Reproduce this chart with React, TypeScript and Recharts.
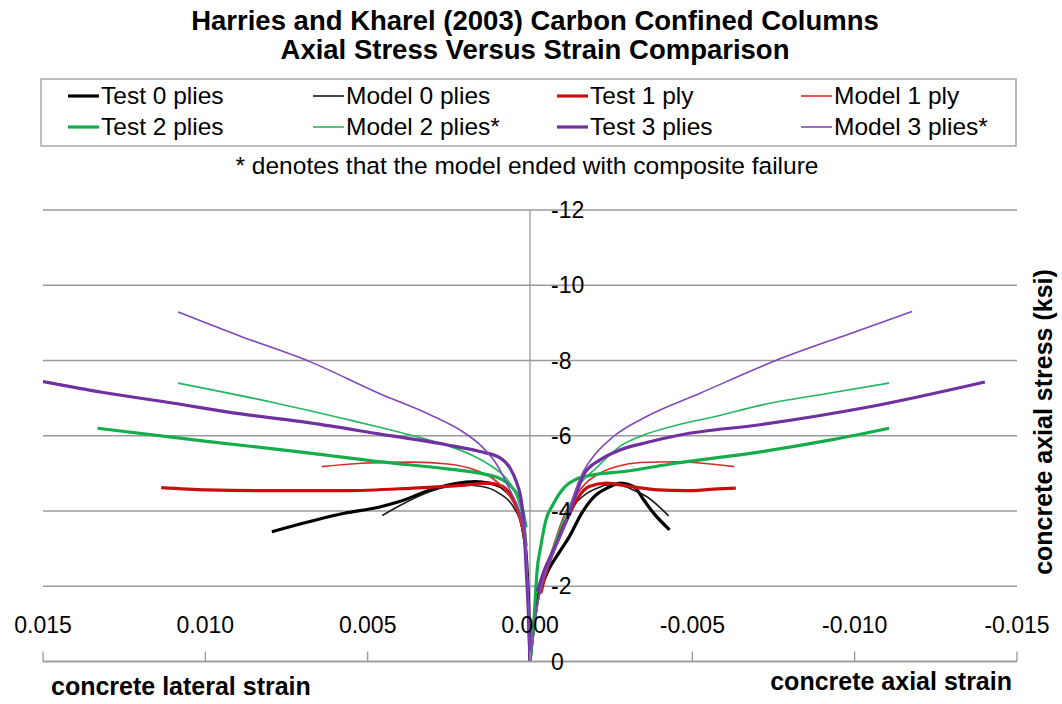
import React from 'react';
import { LineChart, Line, XAxis, YAxis, CartesianGrid, ReferenceLine } from 'recharts';

const W = 1062;
const H = 704;
const PLOT = { left: 43, right: 1017, top: 210, bottom: 661.5 };
const ZERO_X = (PLOT.left + PLOT.right) / 2;
const FONT = '"Liberation Sans", Arial, sans-serif';
const GRID = '#9a9a9a';

const xTicks = [0.015, 0.01, 0.005, 0, -0.005, -0.01, -0.015];
const yTicks = [-12, -10, -8, -6, -4, -2, 0];

// [strain, stress (ksi)] -- lateral branch runs out to the left, axial branch to the right
type Pt = [number, number];

const test0Lateral: Pt[] = [
  [0.00795, -3.45], [0.00678, -3.72], [0.00572, -3.94], [0.00466, -4.1], [0.00402, -4.25],
  [0.00307, -4.56], [0.00233, -4.72], [0.00169, -4.78], [0.00126, -4.74], [0.00084, -4.61],
  [0.00052, -4.3], [0.00031, -3.85], [0.0002, -3.41], [0.0001, -2.6], [0.00004, -1.4], [0, 0],
];
const test0Axial: Pt[] = [
  [0, 0], [-0.0002, -1.5], [-0.0005, -2.3], [-0.0009, -2.9], [-0.0012, -3.3], [-0.0016, -3.95],
  [-0.002, -4.4], [-0.0024, -4.62], [-0.0028, -4.74], [-0.0032, -4.65], [-0.0035, -4.3],
  [-0.0038, -3.95], [-0.0043, -3.5],
];

const model0Lateral: Pt[] = [
  [0.00455, -3.88], [0.00402, -4.14], [0.00307, -4.52], [0.00211, -4.69], [0.00148, -4.65],
  [0.00095, -4.47], [0.00052, -4.12], [0.00026, -3.59], [0.00012, -2.8], [0.00005, -1.6], [0, 0],
];
const model0Axial: Pt[] = [
  [0, 0], [-0.0003, -1.9], [-0.00065, -2.85], [-0.001, -3.6], [-0.0014, -4.2], [-0.00175, -4.47],
  [-0.0021, -4.62], [-0.00236, -4.69], [-0.0028, -4.68], [-0.0032, -4.55], [-0.0036, -4.38],
  [-0.00427, -3.87],
];

const test1Lateral: Pt[] = [
  [0.01136, -4.62], [0.00996, -4.56], [0.00784, -4.54], [0.00572, -4.54], [0.0036, -4.61],
  [0.002, -4.69], [0.00126, -4.74], [0.00084, -4.65], [0.00052, -4.3], [0.00031, -3.85],
  [0.00015, -3.32], [0.00012, -3.05],
];
const test1Axial: Pt[] = [
  [-0.00033, -1.81], [-0.00055, -2.52], [-0.00086, -3.23], [-0.00118, -3.85], [-0.0015, -4.38],
  [-0.00182, -4.65], [-0.00235, -4.74], [-0.0031, -4.65], [-0.00395, -4.56], [-0.0048, -4.54],
  [-0.00566, -4.58], [-0.00634, -4.61],
];

const model1Lateral: Pt[] = [
  [0.00641, -5.18], [0.00519, -5.27], [0.0036, -5.3], [0.00253, -5.25], [0.00169, -5.09],
  [0.00116, -4.87], [0.00073, -4.52], [0.00042, -4.07], [0.00026, -3.59], [0.00012, -2.7],
  [0.00005, -1.6], [0, 0],
];
const model1Axial: Pt[] = [
  [0, 0], [-0.00033, -1.99], [-0.00065, -2.88], [-0.00108, -3.94], [-0.00139, -4.38],
  [-0.00172, -4.74], [-0.00214, -5.0], [-0.00267, -5.18], [-0.00342, -5.29], [-0.00448, -5.31],
  [-0.00629, -5.18],
];

const test2Lateral: Pt[] = [
  [0.01332, -6.2], [0.00996, -5.85], [0.00678, -5.54], [0.00466, -5.31], [0.00255, -5.12],
  [0.0014, -4.98], [0.00085, -4.83], [0.00047, -4.54], [0.00026, -4.17], [0.00012, -3.56],
];
const test2Axial: Pt[] = [
  [0, 0], [-0.00012, -1.1], [-0.00022, -2.43], [-0.00033, -3.05], [-0.00049, -3.76],
  [-0.0007, -4.16], [-0.00108, -4.65], [-0.00139, -4.83], [-0.00193, -4.96], [-0.00289, -5.05],
  [-0.00448, -5.27], [-0.00715, -5.58], [-0.00927, -5.89], [-0.01106, -6.2],
];

const model2Lateral: Pt[] = [
  [0.01084, -7.4], [0.00784, -6.87], [0.00572, -6.45], [0.0046, -6.22], [0.0036, -6.0],
  [0.00255, -5.74], [0.00175, -5.47], [0.00115, -5.17], [0.00072, -4.86], [0.00045, -4.48],
  [0.00031, -4.12], [0.00015, -3.59], [0.0001, -2.6], [0.00004, -1.3], [0, 0],
];
const model2Axial: Pt[] = [
  [0, 0], [-0.00025, -1.6], [-0.0004, -2.2], [-0.0007, -3.0], [-0.001, -3.7], [-0.00125, -4.2],
  [-0.00154, -4.7], [-0.00205, -5.15], [-0.00277, -5.72], [-0.0036, -6.05], [-0.0046, -6.3],
  [-0.00565, -6.5], [-0.00715, -6.82], [-0.0092, -7.13], [-0.01106, -7.4],
];

const test3Lateral: Pt[] = [
  [0.015, -7.44], [0.01314, -7.15], [0.01102, -6.87], [0.0089, -6.58], [0.00678, -6.34],
  [0.00466, -6.05], [0.00257, -5.76], [0.00154, -5.58], [0.00092, -5.41], [0.00062, -5.15],
  [0.00041, -4.75], [0.00026, -4.22], [0.00018, -3.5], [0.00012, -2.51], [0.00005, -1.29], [0, 0],
];
const test3Axial: Pt[] = [
  [-0.000225, -1.86], [-0.00045, -2.45], [-0.00072, -2.95], [-0.00113, -3.76], [-0.00144, -4.5],
  [-0.00164, -4.95], [-0.00216, -5.36], [-0.00277, -5.62], [-0.00359, -5.82], [-0.00462, -6.02],
  [-0.00715, -6.3], [-0.01034, -6.75], [-0.01401, -7.43],
];

const model3Lateral: Pt[] = [
  [0.01084, -9.29], [0.0089, -8.64], [0.00678, -7.97], [0.00466, -7.13], [0.00308, -6.56],
  [0.00206, -6.1], [0.00154, -5.76], [0.00102, -5.23], [0.00062, -4.56], [0.00031, -3.94],
  [0.00015, -3.32], [0.0001, -2.61], [0.00005, -1.72], [0, 0],
];
const model3Axial: Pt[] = [
  [0, 0], [-0.0002, -1.4], [-0.00041, -2.17], [-0.00072, -2.88], [-0.00113, -3.76],
  [-0.00133, -4.38], [-0.00164, -5.05], [-0.00195, -5.45], [-0.00257, -5.98], [-0.00359, -6.51],
  [-0.00524, -7.13], [-0.00757, -8.0], [-0.00981, -8.7], [-0.01177, -9.3],
];

const seriesList = [
  { name: 'Test 0 plies', color: '#000000', width: 3.2, lateral: test0Lateral, axial: test0Axial },
  { name: 'Model 0 plies', color: '#1a1a1a', width: 1.6, lateral: model0Lateral, axial: model0Axial },
  { name: 'Test 1 ply', color: '#c80f0f', width: 3.2, lateral: test1Lateral, axial: test1Axial },
  { name: 'Model 1 ply', color: '#d92a2a', width: 1.6, lateral: model1Lateral, axial: model1Axial },
  { name: 'Test 2 plies', color: '#13ad4a', width: 3.2, lateral: test2Lateral, axial: test2Axial },
  { name: 'Model 2 plies*', color: '#25b560', width: 1.6, lateral: model2Lateral, axial: model2Axial },
  { name: 'Test 3 plies', color: '#7030a0', width: 3.2, lateral: test3Lateral, axial: test3Axial },
  { name: 'Model 3 plies*', color: '#8048b8', width: 1.6, lateral: model3Lateral, axial: model3Axial },
];

const toRows = (pts: Pt[]) => pts.map(([x, y]) => ({ x, y }));

const legendCols = [68, 313, 557, 801];
const legendRows = [96, 127];

function XTick(props: any) {
  const { x, payload } = props;
  return (
    <g>
      <line x1={x} x2={x} y1={PLOT.bottom} y2={PLOT.bottom - 10} stroke={GRID} strokeWidth={1.3} />
      <text x={x} y={633} textAnchor="middle" fontSize={23} fontFamily={FONT} fill="#000">
        {Number(payload.value).toFixed(3)}
      </text>
    </g>
  );
}

function YTick(props: any) {
  const { y, payload } = props;
  return (
    <text x={ZERO_X + 21} y={y + 8} textAnchor="start" fontSize={23} fontFamily={FONT} fill="#000">
      {payload.value}
    </text>
  );
}

export default function App() {
  return (
    <div style={{ position: 'absolute', left: 0, top: 0, width: W, height: H, background: '#fff' }}>
      <LineChart
        width={W}
        height={H}
        margin={{ top: PLOT.top, right: W - PLOT.right, bottom: H - PLOT.bottom - 1, left: PLOT.left - 1 }}
      >
        <CartesianGrid vertical={false} stroke={GRID} strokeWidth={1.3} />
        <XAxis
          type="number"
          dataKey="x"
          domain={[-0.015, 0.015]}
          ticks={xTicks}
          reversed
          allowDataOverflow
          height={1}
          tickLine={false}
          axisLine={{ stroke: GRID, strokeWidth: 1.3 }}
          tick={<XTick />}
          interval={0}
        />
        <YAxis
          type="number"
          domain={[-12, 0]}
          ticks={yTicks}
          reversed
          allowDataOverflow
          width={1}
          axisLine={false}
          tickLine={false}
          tick={<YTick />}
          interval={0}
        />
        <ReferenceLine x={0} stroke={GRID} strokeWidth={1.3} />
        {seriesList.flatMap((s) => [
          <Line
            key={s.name + '-lat'}
            data={toRows(s.lateral)}
            dataKey="y"
            type="monotone"
            stroke={s.color}
            strokeWidth={s.width}
            dot={false}
            isAnimationActive={false}
          />,
          <Line
            key={s.name + '-ax'}
            data={toRows(s.axial)}
            dataKey="y"
            type="monotone"
            stroke={s.color}
            strokeWidth={s.width}
            dot={false}
            isAnimationActive={false}
          />,
        ])}
      </LineChart>

      <svg
        width={W}
        height={H}
        style={{ position: 'absolute', left: 0, top: 0, pointerEvents: 'none' }}
        fontFamily={FONT}
      >
        <text x={535} y={29.5} textAnchor="middle" fontSize={27.5} fontWeight="bold">
          Harries and Kharel (2003) Carbon Confined Columns
        </text>
        <text x={535} y={59} textAnchor="middle" fontSize={27.5} fontWeight="bold">
          Axial Stress Versus Strain Comparison
        </text>

        <rect x={41} y={79} width={975} height={67} fill="#fff" stroke="#a8a8a8" strokeWidth={1.5} />
        {seriesList.map((s, i) => {
          const lx = legendCols[i % 4];
          const ly = legendRows[Math.floor(i / 4)];
          return (
            <g key={s.name}>
              <line x1={lx} x2={lx + 31} y1={ly} y2={ly} stroke={s.color} strokeWidth={s.width} />
              <text x={lx + 33} y={ly + 8} fontSize={24.5}>
                {s.name}
              </text>
            </g>
          );
        })}

        <text x={527} y={174} textAnchor="middle" fontSize={24.5}>
          * denotes that the model ended with composite failure
        </text>

        <text x={51} y={695} fontSize={25} fontWeight="bold">
          concrete lateral strain
        </text>
        <text x={1012} y={689.5} textAnchor="end" fontSize={25} fontWeight="bold">
          concrete axial strain
        </text>
        <text
          transform="translate(1052, 422) rotate(-90)"
          textAnchor="middle"
          fontSize={25}
          fontWeight="bold"
        >
          concrete axial stress (ksi)
        </text>
      </svg>
    </div>
  );
}
